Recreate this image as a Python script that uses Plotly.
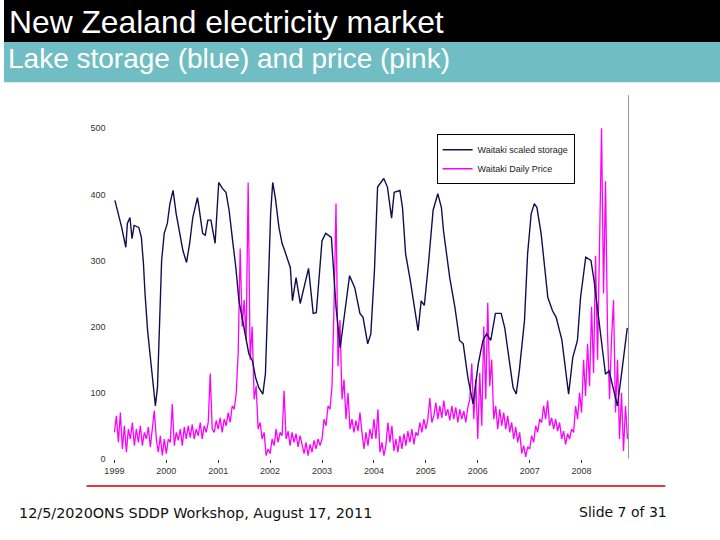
import plotly.graph_objects as go

# ---- Data ----
storage_year = [1999.01, 1999.08, 1999.14, 1999.22, 1999.25, 1999.30, 1999.34, 1999.38, 1999.47, 1999.52,
                1999.56, 1999.59, 1999.64, 1999.70, 1999.75, 1999.79, 1999.83, 1999.88, 1999.91, 1999.96,
                2000.02, 2000.07, 2000.13, 2000.19, 2000.26, 2000.32, 2000.39, 2000.45, 2000.51, 2000.60,
                2000.63, 2000.70, 2000.75, 2000.80, 2000.86, 2000.94, 2001.01, 2001.08, 2001.15, 2001.21,
                2001.27, 2001.34, 2001.40, 2001.47, 2001.53, 2001.59, 2001.66, 2001.72, 2001.78, 2001.86,
                2001.91, 2001.96, 2002.01, 2002.05, 2002.10, 2002.17, 2002.23, 2002.28, 2002.39, 2002.43,
                2002.50, 2002.58, 2002.65, 2002.74, 2002.83, 2002.89, 2003.00, 2003.07, 2003.18, 2003.21,
                2003.27, 2003.35, 2003.44, 2003.53, 2003.63, 2003.73, 2003.79, 2003.88, 2003.94, 2004.01,
                2004.07, 2004.19, 2004.26, 2004.34, 2004.39, 2004.50, 2004.55, 2004.61, 2004.70, 2004.79,
                2004.85, 2004.91, 2004.97, 2005.05, 2005.14, 2005.23, 2005.30, 2005.34, 2005.46, 2005.56,
                2005.65, 2005.72, 2005.81, 2005.91, 2006.01, 2006.10, 2006.17, 2006.25, 2006.34, 2006.45,
                2006.52, 2006.58, 2006.68, 2006.74, 2006.80, 2006.90, 2006.96, 2007.03, 2007.09, 2007.14,
                2007.22, 2007.35, 2007.44, 2007.51, 2007.62, 2007.75, 2007.83, 2007.92, 2007.98, 2008.08,
                2008.18, 2008.24, 2008.34, 2008.46, 2008.53, 2008.61, 2008.69, 2008.78, 2008.88]

storage_value = [391, 371, 350, 320, 356, 365, 333, 353, 350, 335,
                 295, 250, 194, 148, 108, 80, 108, 239, 300, 341,
                 356, 386, 406, 371, 341, 315, 297, 326, 365, 395,
                 380, 341, 338, 361, 361, 326, 418, 409, 403, 376,
                 335, 289, 239, 209, 179, 159, 148, 123, 108, 98,
                 129, 235, 371, 418, 395, 350, 326, 315, 289, 239,
                 274, 235, 259, 288, 220, 221, 330, 341, 335, 300,
                 229, 168, 220, 277, 259, 220, 214, 174, 189, 285,
                 411, 424, 411, 364, 403, 406, 380, 310, 270, 224,
                 194, 239, 232, 295, 376, 401, 380, 345, 274, 229,
                 179, 174, 123, 83, 144, 179, 189, 179, 220, 220,
                 198, 164, 108, 98, 133, 209, 310, 371, 386, 380,
                 341, 244, 224, 214, 180, 98, 153, 179, 244, 305,
                 300, 270, 205, 128, 133, 108, 80, 135, 198]

# Daily price sampled every two weeks (26 readings per year)
price_1999 = [40, 65, 25, 70, 15, 50, 10, 45, 30, 55, 20, 45, 25, 50, 20, 40, 30, 48, 18, 42, 73, 30, 10, 35, 5, 30]
price_2000 = [8, 30, 25, 83, 20, 40, 28, 45, 20, 48, 30, 50, 32, 52, 30, 45, 35, 55, 30, 50, 40, 55, 129, 45, 40, 58]
price_2001 = [45, 62, 40, 60, 50, 70, 55, 80, 75, 98, 160, 318, 200, 240, 180, 418, 150, 200, 90, 110, 45, 55, 30, 40, 5, 15]
price_2002 = [8, 30, 20, 45, 25, 40, 35, 103, 30, 42, 20, 40, 25, 38, 18, 35, 20, 8, 25, 5, 22, 10, 28, 15, 30, 20]
price_2003 = [30, 60, 50, 80, 75, 110, 230, 386, 140, 210, 90, 120, 60, 100, 45, 60, 40, 58, 42, 70, 40, 15, 40, 20, 45, 30]
price_2004 = [60, 30, 75, 10, 25, 5, 20, 55, 25, 50, 12, 30, 10, 35, 15, 38, 20, 42, 25, 45, 22, 40, 35, 55, 40, 60]
price_2005 = [45, 60, 92, 55, 65, 85, 60, 80, 62, 88, 65, 75, 58, 80, 60, 78, 55, 75, 60, 72, 55, 77, 90, 144, 60, 120]
price_2006 = [30, 130, 50, 200, 90, 236, 110, 150, 60, 80, 45, 75, 50, 70, 45, 65, 40, 55, 30, 48, 25, 40, 8, 20, 3, 18]
price_2007 = [15, 35, 25, 50, 40, 60, 55, 80, 60, 88, 50, 62, 45, 60, 42, 55, 30, 42, 22, 38, 30, 45, 40, 80, 60, 100]
price_2008 = [70, 150, 95, 174, 110, 230, 130, 307, 150, 340, 500, 250, 420, 190, 90, 180, 240, 70, 150, 30, 100, 12, 80, 30]

price_years = [1999, 2000, 2001, 2002, 2003, 2004, 2005, 2006, 2007, 2008]
price_lists = [price_1999, price_2000, price_2001, price_2002, price_2003,
               price_2004, price_2005, price_2006, price_2007, price_2008]

price_x, price_y = [], []
for yr, vals in zip(price_years, price_lists):
    for i, v in enumerate(vals):
        price_x.append(yr + i / 26.0)
        price_y.append(v)

year_ticks = [1999, 2000, 2001, 2002, 2003, 2004, 2005, 2006, 2007, 2008]
year_labels = [str(y) for y in year_ticks]
value_ticks = [0, 100, 200, 300, 400, 500]

# ---- Figure ----
W, H = 720, 540          # design coordinates
FIG_H = 546              # rendered height (compensates the capture's vertical squeeze)
fig = go.Figure()

fig.add_trace(go.Scatter(x=price_x, y=price_y, mode="lines", name="Waitaki Daily Price",
                         line=dict(color="#ff00ff", width=1.3)))
fig.add_trace(go.Scatter(x=storage_year, y=storage_value, mode="lines", name="Waitaki scaled storage",
                         line=dict(color="#101050", width=1.4)))

tick_font = dict(family="Liberation Sans, Arial", size=9, color="#333333")

fig.update_layout(
    width=W, height=FIG_H,
    margin=dict(l=0, r=0, t=0, b=0),
    paper_bgcolor="white", plot_bgcolor="white",
    showlegend=True,
    legend=dict(x=435 / W, y=1 - 134 / H, xanchor="left", yanchor="top",
                bgcolor="white", bordercolor="black", borderwidth=1,
                font=dict(family="Liberation Sans, Arial", size=9, color="#222222"),
                traceorder="reversed", tracegroupgap=0, itemwidth=30),
    xaxis=dict(domain=[105 / W, 628 / W], range=[1998.885, 2008.904],
               tickvals=year_ticks, ticktext=year_labels, tickfont=tick_font,
               showgrid=False, zeroline=False, showline=False,
               ticks="outside", ticklen=3, tickcolor="#333333", tickwidth=1),
    yaxis=dict(domain=[1 - 458 / H, 1 - 95 / H], range=[0, 550],
               tickvals=value_ticks, tickfont=tick_font,
               showgrid=False, zeroline=False, showline=False, ticks="",
               ticklabelstandoff=2),
    shapes=[
        dict(type="rect", xref="paper", yref="paper", x0=0, x1=1, y0=1 - 42 / H, y1=1,
             fillcolor="black", line=dict(width=0), layer="below"),
        dict(type="rect", xref="paper", yref="paper", x0=0, x1=1, y0=1 - 82 / H, y1=1 - 42 / H,
             fillcolor="#70bec4", line=dict(width=0), layer="below"),
        dict(type="line", xref="x domain", yref="y domain", x0=1, x1=1, y0=0, y1=1,
             line=dict(color="#999999", width=1)),
        dict(type="line", xref="paper", yref="paper", x0=83 / W, x1=665 / W,
             y0=1 - 485 / H, y1=1 - 485 / H, line=dict(color="#e03a3a", width=2)),
    ],
    annotations=[
        dict(text="New Zealand electricity market", xref="paper", yref="paper",
             x=3 / W, y=1 - 21.9 / H, xanchor="left", yanchor="middle", showarrow=False,
             font=dict(family="Liberation Sans, Arial", size=31.8, color="white")),
        dict(text="Lake storage (blue) and price (pink)", xref="paper", yref="paper",
             x=2 / W, y=1 - 58.8 / H, xanchor="left", yanchor="middle", showarrow=False,
             font=dict(family="Liberation Sans, Arial", size=28, color="white")),
        dict(text="12/5/2020ONS SDDP Workshop, August 17, 2011", xref="paper", yref="paper",
             x=13 / W, y=1 - 512 / H, xanchor="left", yanchor="middle", showarrow=False,
             font=dict(family="DejaVu Sans", size=14.4, color="#111111")),
        dict(text="Slide 7 of 31", xref="paper", yref="paper",
             x=669 / W, y=1 - 511 / H, xanchor="right", yanchor="middle", showarrow=False,
             font=dict(family="DejaVu Sans", size=14, color="#111111")),
    ],
)

fig.write_html(
    "out.html",
    config={"displayModeBar": False},
    post_script=(
        "document.documentElement.style.margin='0';"
        "document.documentElement.style.padding='0';"
        "document.documentElement.style.overflow='hidden';"
        "document.body.style.margin='0';"
        "document.body.style.padding='0';"
        "document.body.style.overflow='hidden';"
    ),
)
